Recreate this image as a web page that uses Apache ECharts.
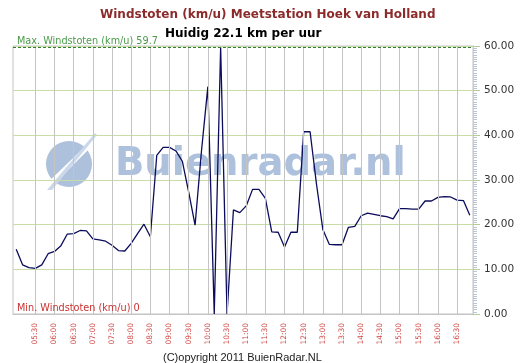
<!DOCTYPE html>
<html><head><meta charset="utf-8">
<script src="https://cdn.jsdelivr.net/npm/echarts@6/dist/echarts.min.js"></script>
<style>html,body{margin:0;padding:0;background:#fff}#c{width:527px;height:363px}</style>
</head><body><div id="c"></div>
<script>
const titleText = 'Windstoten (km/u) Meetstation Hoek van Holland';
const subtitleText = 'Huidig 22.1 km per uur';
const copyrightText = '(C)opyright 2011 BuienRadar.NL';
const watermarkText = 'Buienradar.nl';
const maxLabel = 'Max. Windstoten (km/u) 59.7';
const minLabel = 'Min. Windstoten (km/u) 0';
const maxValue = 59.7;
const minValue = 0;

// 10-minute observation times, 05:00 .. 16:50
const times = [];
for (let h = 5; h <= 16; h++) {
  for (let m = 0; m < 60; m += 10) {
    times.push((h < 10 ? '0' : '') + h + ':' + (m < 10 ? '0' : '') + m);
  }
}

const gusts = [
  14.5, 11.0, 10.4, 10.2, 11.0, 13.5, 14.0, 15.3, 17.9, 18.0,
  18.7, 18.6, 16.8, 16.6, 16.3, 15.4, 14.2, 14.1, 15.8, 18.0,
  20.1, 17.3, 35.5, 37.3, 37.3, 36.5, 34.2, 27.3, 19.9, 36.5,
  50.9, 0.0, 59.7, 0.0, 23.3, 22.7, 24.2, 27.9, 27.9, 25.9,
  18.4, 18.3, 15.0, 18.3, 18.3, 40.8, 40.8, 29.1, 18.9, 15.6,
  15.5, 15.5, 19.4, 19.6, 22.0, 22.6, 22.3, 22.0, 21.8, 21.3,
  23.6, 23.6, 23.5, 23.5, 25.3, 25.3, 26.1, 26.3, 26.2, 25.5,
  25.4, 22.1
];

const tickLabels = ['05:30','06:00','06:30','07:00','07:30','08:00','08:30','09:00','09:30',
  '10:00','10:30','11:00','11:30','12:00','12:30','13:00','13:30','14:00','14:30','15:00',
  '15:30','16:00','16:30'];

const yMin = 0, yMax = 60, yStep = 10;

const chart = echarts.init(document.getElementById('c'), null, {renderer: 'canvas'});
chart.setOption({
  animation: false,
  backgroundColor: '#ffffff',
  title: [
    {text: titleText, left: 100, top: 9, padding: 0,
     textStyle: {fontFamily: 'DejaVu Sans', fontWeight: 'bold', fontSize: 12, color: '#8c2b2b'}},
    {text: subtitleText, left: 165, top: 28, padding: 0,
     textStyle: {fontFamily: 'DejaVu Sans', fontWeight: 'bold', fontSize: 12, color: '#000000'}},
    {text: copyrightText, left: 163, top: 352, padding: 0,
     textStyle: {fontFamily: 'Liberation Sans', fontWeight: 'normal', fontSize: 11, color: '#222222'}}
  ],
  grid: {left: 13, right: 54, top: 46, bottom: 49, containLabel: false, outerBoundsMode: 'none',
         show: true, borderColor: '#c4c4c4', borderWidth: 1},
  graphic: [
    {type: 'group', z: 1, silent: true, children: [
      {type: 'circle', shape: {cx: 69, cy: 164, r: 23}, style: {fill: '#adc0dc'}},
      {type: 'polygon', shape: {points: [[44, 186], [96, 136], [99, 139], [52, 186]]}, style: {fill: '#ffffff'}},
      {type: 'polygon', shape: {points: [[47, 190], [95, 133], [97, 135], [52, 190]]}, style: {fill: '#cbd8eb'}},
      {type: 'text', x: 115, y: 165, style: {text: watermarkText, fontFamily: 'DejaVu Sans', fontWeight: 'bold',
        fontSize: 38.5, fill: '#adc0dc', textVerticalAlign: 'middle', verticalAlign: 'middle'}}
    ]}
  ],
  xAxis: {
    type: 'category',
    data: times,
    boundaryGap: true,
    axisLine: {show: true, lineStyle: {color: '#c4c4c4'}},
    axisTick: {show: false},
    splitLine: {show: false},
    axisLabel: {
      interval: function (i, v) { return tickLabels.indexOf(v) >= 0; },
      rotate: 90, margin: 9, color: '#d04848', fontFamily: 'DejaVu Sans', fontSize: 7.5
    }
  },
  yAxis: {
    type: 'value', position: 'right', min: yMin, max: yMax, interval: yStep,
    axisLine: {show: true, lineStyle: {color: '#c8d0d8'}},
    axisTick: {show: true, length: 7, lineStyle: {color: '#b8c8a0'}},
    minorTick: {show: true, splitNumber: 20, length: 4, lineStyle: {color: '#b9c6d6'}},
    splitLine: {show: true, lineStyle: {color: '#c8dca8', width: 1}},
    axisLabel: {formatter: function (v) { return v.toFixed(2); }, margin: 11,
      color: '#333333', fontFamily: 'DejaVu Sans', fontSize: 10.5}
  },
  series: [
    {
      type: 'line', data: [], z: 0, silent: true,
      markLine: {
        silent: true, symbol: 'none', animation: false,
        label: {show: false},
        lineStyle: {color: '#c4c4c4', type: 'solid', width: 1},
        data: tickLabels.map(function (t) { return {xAxis: t}; })
      }
    },
    {
      type: 'line', data: gusts, z: 3, showSymbol: false, symbol: 'none',
      lineStyle: {color: '#0c0c5c', width: 1.3},
      markLine: {
        silent: true, symbol: 'none', animation: false,
        data: [
          {yAxis: maxValue, lineStyle: {color: '#2f7f2f', type: [3, 2], width: 1},
           label: {show: true, formatter: maxLabel, position: 'insideStartTop', distance: [4, 1],
             color: '#4a9a4a', fontFamily: 'DejaVu Sans', fontSize: 9.7}},
          {yAxis: minValue, lineStyle: {color: 'rgba(0,0,0,0)', width: 1},
           label: {show: true, formatter: minLabel, position: 'insideStartTop', distance: [4, 1],
             color: '#c83232', fontFamily: 'DejaVu Sans', fontSize: 9.7}}
        ]
      }
    }
  ]
});
</script></body></html>
